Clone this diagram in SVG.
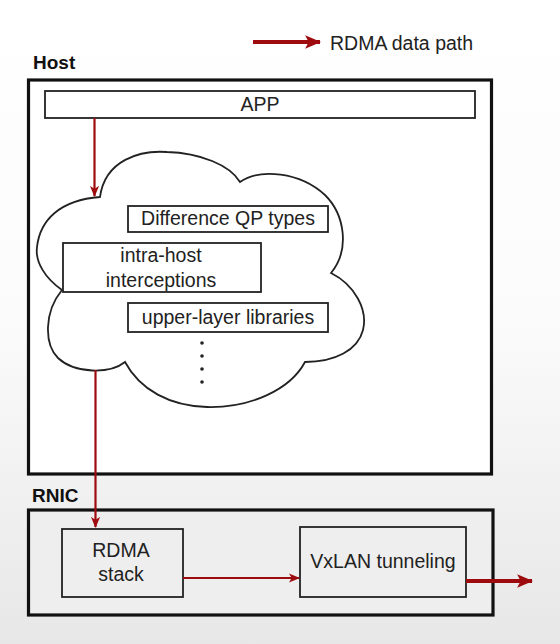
<svg xmlns="http://www.w3.org/2000/svg" width="560" height="644" viewBox="0 0 560 644">
<defs>
<linearGradient id="bg" x1="0" y1="0" x2="0" y2="1">
<stop offset="0" stop-color="#ffffff"/>
<stop offset="0.5" stop-color="#fbfbfb"/>
<stop offset="1" stop-color="#e7e7e7"/>
</linearGradient>
<marker id="ah" viewBox="0 0 12 10" refX="11" refY="5" markerWidth="11" markerHeight="10" markerUnits="userSpaceOnUse" orient="auto">
<path d="M0,0 L12,5 L0,10 L3,5 Z" fill="#9e0b0f"/>
</marker>
<marker id="ahb" viewBox="0 0 14 12" refX="13" refY="6" markerWidth="16" markerHeight="14" markerUnits="userSpaceOnUse" orient="auto">
<path d="M0,0 L14,6 L0,12 L3,6 Z" fill="#9e0b0f"/>
</marker>
<style>
.t{font-family:"Liberation Sans",Arial,sans-serif;font-size:19.5px;fill:#222}
.b{font-family:"Liberation Sans",Arial,sans-serif;font-size:19px;font-weight:bold;fill:#111}
.box{fill:#fff;stroke:#222;stroke-width:1.8}
.gbox{fill:#eeeeee;stroke:#222;stroke-width:1.8}
.outer{stroke:#111;stroke-width:3.2}
.ar{fill:none;stroke:#9e0b0f;stroke-width:2.2}
.arb{fill:none;stroke:#9e0b0f;stroke-width:4}
</style>
</defs>
<rect width="560" height="644" fill="url(#bg)"/>

<g id="legend">
<line class="arb" x1="253" y1="42" x2="320" y2="42" marker-end="url(#ahb)"/>
<text class="t" x="330" y="50">RDMA data path</text>
</g>

<g id="host">
<text class="b" x="33" y="68.5">Host</text>
<rect class="outer" x="28.5" y="80" width="463" height="394" fill="#ffffff"/>
</g>

<g id="app">
<rect class="box" x="45" y="91" width="430" height="27"/>
<text class="t" x="260" y="111" text-anchor="middle">APP</text>
</g>

<g id="cloud">
<path class="box" d="M100,197 C105,160 140,150 167,152 C200,153 230,165 240,182 C260,168 300,172 325,195 C345,215 350,250 331,273 C355,285 368,310 363,330 C358,350 335,362 305,362 C290,390 250,408 207,407 C170,406 140,390 125,362 C110,374 75,374 58,358 C44,344 44,312 62,290 C45,278 35,262 37,247 C40,220 60,200 100,197 Z"/>
</g>

<g id="qp">
<rect class="box" x="128" y="206" width="200" height="26"/>
<text class="t" x="228" y="224.5" text-anchor="middle">Difference QP types</text>
</g>

<g id="intra">
<rect class="box" x="63" y="243" width="198" height="49"/>
<text class="t" x="161" y="262" text-anchor="middle">intra-host</text>
<text class="t" x="161" y="287" text-anchor="middle">interceptions</text>
</g>

<g id="upper">
<rect class="box" x="128" y="303" width="200" height="29"/>
<text class="t" x="228" y="323.5" text-anchor="middle">upper-layer libraries</text>
</g>

<g id="dots" fill="#222">
<circle cx="202" cy="343" r="1.8"/>
<circle cx="202" cy="356" r="1.8"/>
<circle cx="202" cy="369" r="1.8"/>
<circle cx="202" cy="382" r="1.8"/>
</g>

<g id="rnic">
<text class="b" x="32" y="502">RNIC</text>
<rect class="outer" x="28.5" y="510" width="464.5" height="105" fill="#eeeeee"/>
</g>

<g id="rdma">
<rect class="gbox" x="62" y="529" width="121" height="68"/>
<text class="t" x="121" y="557" text-anchor="middle">RDMA</text>
<text class="t" x="121" y="581" text-anchor="middle">stack</text>
</g>

<g id="vxlan">
<rect class="gbox" x="300" y="527" width="166" height="70"/>
<text class="t" x="383" y="568" text-anchor="middle">VxLAN tunneling</text>
</g>

<g id="connectors">
<line class="ar" x1="94.5" y1="118" x2="94.5" y2="196" marker-end="url(#ah)"/>
<line class="ar" x1="95.5" y1="370" x2="95.5" y2="527" marker-end="url(#ah)"/>
<line class="ar" x1="183" y1="578" x2="299" y2="578" marker-end="url(#ah)"/>
<line class="arb" x1="466" y1="581" x2="532" y2="581" marker-end="url(#ahb)"/>
</g>
</svg>
